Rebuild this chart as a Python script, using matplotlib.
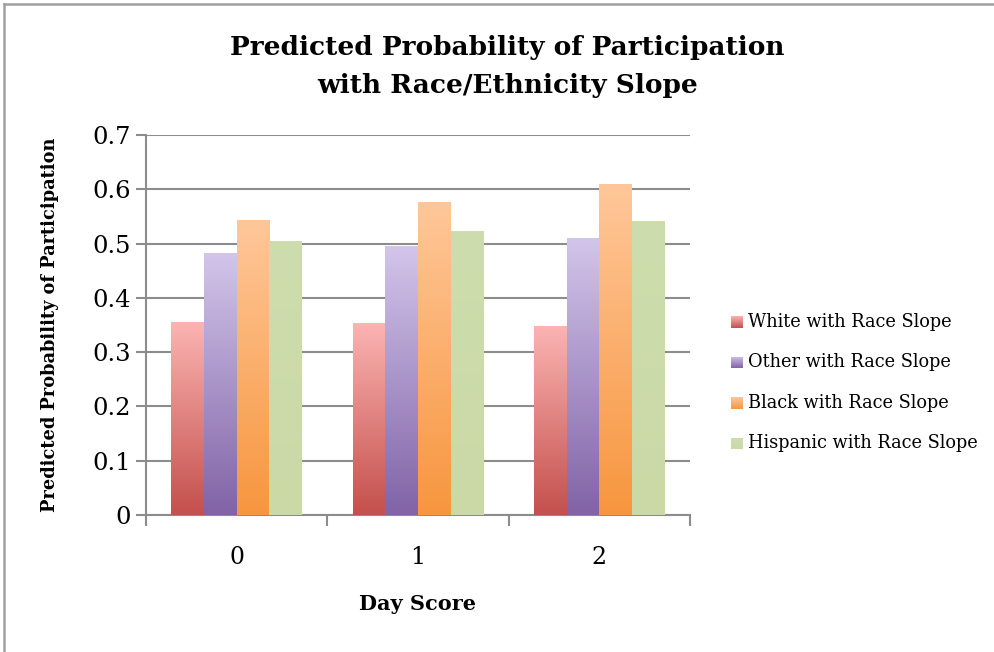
import matplotlib
matplotlib.use("Agg")
import matplotlib.pyplot as plt
import numpy as np
from matplotlib.colors import LinearSegmentedColormap
from matplotlib.lines import Line2D

# data
days = ["0", "1", "2"]
series = ["White with Race Slope", "Other with Race Slope",
          "Black with Race Slope", "Hispanic with Race Slope"]
white = [0.355, 0.352, 0.348]
other = [0.481, 0.495, 0.510]
black = [0.543, 0.575, 0.608]
hispanic = [0.503, 0.522, 0.541]
values = [white, other, black, hispanic]

# gradient colours, top -> bottom
grads = [("#FBB4B2", "#C4504C"), ("#D2C5EA", "#8163A6"),
         ("#FFC799", "#F7963F"), ("#CEDDAD", "#CAD9A6")]
cmaps = [LinearSegmentedColormap.from_list("g%d" % i, [bot, top])
         for i, (top, bot) in enumerate(grads)]
grad = np.linspace(0, 1, 256).reshape(-1, 1)

plt.rcParams["font.family"] = "DejaVu Serif"

W, H = 995, 652
fig = plt.figure(figsize=(W/100, H/100), dpi=100)
ax = fig.add_axes([146/W, 1-515/H, (690-146)/W, (515-135)/H])

x = np.arange(len(days))
w = 0.18
for i, vals in enumerate(values):
    xs = x - 2*w + i*w
    for xi, v in zip(xs, vals):
        ax.imshow(grad, cmap=cmaps[i], origin="lower", aspect="auto",
                  extent=(xi, xi + w, 0, v), zorder=3, vmin=0, vmax=1)

ax.set_xlim(-0.5, 2.5)
ax.set_ylim(0, 0.7)
ax.set_yticks(np.arange(0, 0.71, 0.1))
ax.set_yticklabels(["0"] + ["%.1f" % t for t in np.arange(0.1, 0.71, 0.1)])
ax.set_xticks(x)
ax.set_xticklabels(days)
ax.set_xticks([-0.5, 0.5, 1.5, 2.5], minor=True)
ax.tick_params(axis="x", which="major", length=0, labelsize=17, pad=22)
ax.tick_params(axis="x", which="minor", length=8, width=1.5, color="#8c8c8c")
ax.tick_params(axis="y", length=7, width=1.5, color="#8c8c8c", labelsize=17.5, pad=4)
ax.grid(axis="y", color="#8c8c8c", linewidth=1.5, zorder=0)
ax.set_axisbelow(True)
for s in ["top", "right"]:
    ax.spines[s].set_visible(False)
for s in ["left", "bottom"]:
    ax.spines[s].set_color("#8c8c8c")
    ax.spines[s].set_linewidth(1.5)

ax.set_ylabel("Predicted Probability of Participation", fontsize=12.8,
              fontweight="bold", labelpad=24)
ax.set_xlabel("Day Score", fontsize=15, fontweight="bold", labelpad=18)

fig.text(0.5 + 10/W, 1 - 48/H, "Predicted Probability of Participation",
         ha="center", va="center", fontsize=19, fontweight="bold")
fig.text(0.5 + 10/W, 1 - 85/H, "with Race/Ethnicity Slope",
         ha="center", va="center", fontsize=19, fontweight="bold")

# legend: gradient swatches + labels
for i, name in enumerate(series):
    yc = 322 + i*40.5
    sw = fig.add_axes([731/W, 1-(yc+6)/H, 12/W, 12/H])
    sw.imshow(grad, cmap=cmaps[i], origin="lower", aspect="auto", vmin=0, vmax=1)
    sw.axis("off")
    fig.text(748/W, 1-yc/H, name, ha="left", va="center", fontsize=12.8)

# chart frame (top and left edges)
fig.add_artist(Line2D([4/W, 1], [1-4/H, 1-4/H], color="#a0a0a0", linewidth=1.8))
fig.add_artist(Line2D([4/W, 4/W], [0, 1-4/H], color="#a0a0a0", linewidth=1.8))

fig.savefig("out.png", dpi=100)
